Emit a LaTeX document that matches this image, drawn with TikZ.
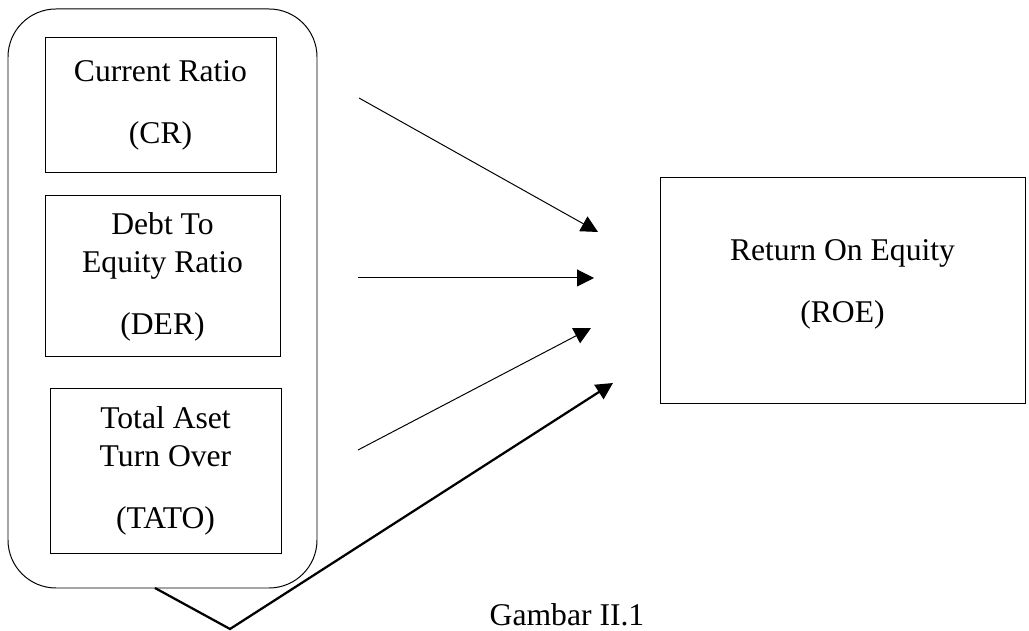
\documentclass[tikz,border=0pt]{standalone}
\usepackage{fontspec}
\setmainfont{Liberation Serif}
\usetikzlibrary{arrows.meta}

\begin{document}
\begin{tikzpicture}[
    font=\fontsize{22.5}{27}\selectfont,
    kotak/.style={draw, line width=0.7pt, align=center, inner sep=0pt},
    panah/.style={line width=0.7pt, -{Triangle[length=0.42cm,width=0.42cm]}},
    panahtebal/.style={line width=1.6pt, -{Triangle[length=0.42cm,width=0.42cm]}}
  ]
    \useasboundingbox (0,0) rectangle (25.725,15.775);

    \node[kotak, rounded corners=1.2cm, minimum width=7.725cm, minimum height=14.475cm] (grup) at (4.0625,8.3125) {};

    \node[kotak, minimum width=5.775cm, minimum height=3.375cm] (cr) at (4.0125,13.1375) {Current Ratio\\[17pt](CR)};
    \node[kotak, minimum width=5.875cm, minimum height=4.025cm] (der) at (4.0625,8.8625) {Debt To\\Equity Ratio\\[17pt](DER)};
    \node[kotak, minimum width=5.775cm, minimum height=4.1cm] (tato) at (4.1375,4.0) {Total Aset\\Turn Over\\[17pt](TATO)};

    \node[kotak, minimum width=9.125cm, minimum height=5.65cm] (roe) at (21.0625,8.5) {};
    \node[align=center] (roe-teks) at ([yshift=0.17cm]roe.center) {Return On Equity\\[17pt](ROE)};

    \node (judul) at (14.175,0.4) {Gambar II.1};

    \coordinate (cr-a) at (8.975,13.325);
    \coordinate (cr-b) at (14.95,9.975);
    \coordinate (der-a) at (8.95,8.825);
    \coordinate (der-b) at (14.85,8.825);
    \coordinate (tato-a) at (8.95,4.525);
    \coordinate (tato-b) at (14.775,7.575);
    \coordinate (grup-a) at (3.875,1.075);
    \coordinate (grup-v) at (5.75,0.05);
    \coordinate (grup-b) at (15.325,6.2);

    \draw[panah] (cr-a) -- (cr-b);
    \draw[panah] (der-a) -- (der-b);
    \draw[panah] (tato-a) -- (tato-b);
    \draw[panahtebal] (grup-a) -- (grup-v) -- (grup-b);
  \end{tikzpicture}
\end{document}
